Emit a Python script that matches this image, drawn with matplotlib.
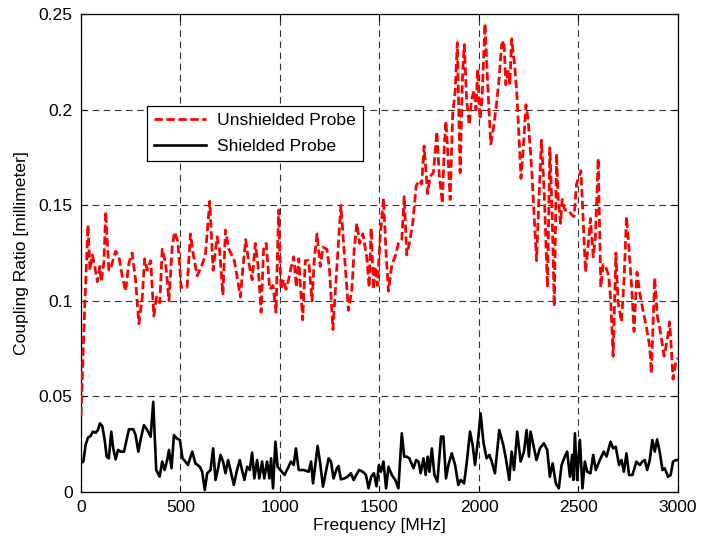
import matplotlib
matplotlib.use("Agg")
import matplotlib.pyplot as plt
from matplotlib.ticker import FixedLocator, FixedFormatter

# ---- data ----
unshielded_freq = [0, 18, 35, 45, 57, 69, 82, 95, 102, 115, 124, 140, 152, 174, 191, 207, 224, 241,
                   257, 274, 291, 308, 320, 333, 350, 366, 380, 396, 408, 425, 442, 458, 470, 487,
                   503, 533, 550, 563, 584, 609, 625, 647, 664, 684, 696, 713, 726, 743, 768, 784,
                   801, 814, 828, 843, 860, 876, 890, 905, 918, 931, 948, 965, 980, 993, 1005, 1018,
                   1030, 1043, 1057, 1069, 1082, 1094, 1114, 1127, 1144, 1161, 1172, 1186, 1202,
                   1216, 1236, 1249, 1266, 1286, 1306, 1323, 1344, 1361, 1373, 1386, 1400, 1416,
                   1436, 1448, 1458, 1470, 1478, 1490, 1503, 1520, 1533, 1545, 1562, 1578, 1595,
                   1612, 1624, 1637, 1650, 1667, 1684, 1700, 1712, 1724, 1742, 1754, 1771, 1788,
                   1801, 1816, 1826, 1834, 1846, 1855, 1868, 1880, 1891, 1905, 1918, 1926, 1938,
                   1951, 1962, 1975, 1985, 1993, 2005, 2015, 2030, 2043, 2059, 2072, 2085, 2100,
                   2114, 2125, 2135, 2146, 2155, 2164, 2177, 2189, 2197, 2211, 2222, 2236, 2247,
                   2264, 2278, 2289, 2301, 2314, 2328, 2344, 2356, 2368, 2378, 2390, 2398, 2410,
                   2418, 2431, 2448, 2465, 2478, 2490, 2512, 2523, 2535, 2548, 2560, 2574, 2585,
                   2599, 2612, 2624, 2636, 2652, 2662, 2674, 2688, 2699, 2716, 2729, 2741, 2754,
                   2769, 2779, 2794, 2808, 2824, 2841, 2858, 2866, 2883, 2896, 2913, 2930, 2946,
                   2958, 2966, 2975, 2991, 3000]
unshielded_ratio = [0.040, 0.095, 0.1396, 0.116, 0.124, 0.118, 0.110, 0.118, 0.110, 0.120, 0.1466,
                    0.116, 0.118, 0.126, 0.123, 0.113, 0.105, 0.120, 0.125, 0.111, 0.088, 0.102,
                    0.122, 0.116, 0.121, 0.092, 0.102, 0.099, 0.127, 0.120, 0.100, 0.128, 0.136,
                    0.131, 0.107, 0.107, 0.135, 0.125, 0.113, 0.119, 0.124, 0.152, 0.116, 0.1335,
                    0.127, 0.103, 0.137, 0.127, 0.122, 0.113, 0.102, 0.118, 0.132, 0.120, 0.111,
                    0.130, 0.118, 0.094, 0.128, 0.130, 0.106, 0.108, 0.094, 0.1475, 0.106, 0.111,
                    0.106, 0.111, 0.118, 0.123, 0.107, 0.122, 0.090, 0.121, 0.121, 0.100, 0.121,
                    0.135, 0.118, 0.128, 0.127, 0.116, 0.085, 0.118, 0.150, 0.125, 0.095, 0.106,
                    0.127, 0.1405, 0.130, 0.135, 0.123, 0.107, 0.138, 0.106, 0.118, 0.108, 0.133,
                    0.1536, 0.125, 0.105, 0.119, 0.123, 0.130, 0.132, 0.1545, 0.124, 0.130, 0.1405,
                    0.160, 0.163, 0.161, 0.181, 0.156, 0.165, 0.167, 0.1885, 0.165, 0.151, 0.182,
                    0.194, 0.172, 0.153, 0.198, 0.209, 0.235, 0.167, 0.220, 0.234, 0.205, 0.192,
                    0.205, 0.210, 0.200, 0.221, 0.195, 0.205, 0.245, 0.215, 0.182, 0.190, 0.200,
                    0.215, 0.234, 0.236, 0.213, 0.220, 0.213, 0.237, 0.225, 0.210, 0.1946, 0.164,
                    0.179, 0.2025, 0.1946, 0.170, 0.142, 0.121, 0.153, 0.184, 0.156, 0.107, 0.180,
                    0.144, 0.097, 0.177, 0.153, 0.1405, 0.153, 0.1475, 0.1475, 0.145, 0.144, 0.161,
                    0.168, 0.144, 0.115, 0.128, 0.143, 0.123, 0.1335, 0.1745, 0.107, 0.119, 0.118,
                    0.113, 0.100, 0.071, 0.125, 0.099, 0.089, 0.111, 0.144, 0.127, 0.104, 0.084,
                    0.115, 0.104, 0.095, 0.0865, 0.076, 0.062, 0.112, 0.092, 0.083, 0.071, 0.0795,
                    0.089, 0.076, 0.059, 0.069, 0.070]

shielded_freq = [0, 12, 23, 35, 48, 60, 74, 85, 95, 107, 119, 129, 140, 152, 162, 174, 186, 199,
                 216, 229, 241, 263, 274, 288, 299, 316, 333, 350, 363, 378, 395, 408, 420, 433,
                 442, 455, 467, 480, 497, 510, 525, 537, 559, 575, 597, 609, 622, 634, 651, 664,
                 676, 689, 701, 714, 726, 739, 751, 768, 784, 798, 809, 821, 835, 848, 860, 871,
                 885, 896, 910, 921, 935, 947, 955, 965, 977, 988, 1002, 1023, 1039, 1055, 1069,
                 1080, 1094, 1119, 1144, 1156, 1166, 1177, 1189, 1202, 1216, 1231, 1244, 1256,
                 1269, 1286, 1294, 1306, 1323, 1340, 1356, 1370, 1383, 1398, 1416, 1432, 1445,
                 1458, 1472, 1485, 1497, 1507, 1520, 1533, 1545, 1562, 1579, 1595, 1612, 1624,
                 1637, 1650, 1671, 1684, 1696, 1707, 1721, 1732, 1742, 1751, 1763, 1776, 1791,
                 1809, 1821, 1834, 1846, 1863, 1880, 1896, 1908, 1925, 1938, 1955, 1968, 1980,
                 1997, 2008, 2022, 2038, 2052, 2064, 2080, 2102, 2122, 2135, 2152, 2164, 2176,
                 2192, 2209, 2226, 2239, 2251, 2259, 2273, 2289, 2306, 2326, 2343, 2356, 2370,
                 2386, 2401, 2415, 2431, 2443, 2457, 2468, 2474, 2482, 2493, 2507, 2520, 2532,
                 2544, 2560, 2574, 2587, 2607, 2627, 2641, 2661, 2674, 2687, 2704, 2716, 2728,
                 2741, 2754, 2771, 2791, 2808, 2821, 2833, 2845, 2858, 2871, 2883, 2895, 2908,
                 2922, 2933, 2950, 2963, 2975, 2990, 3000]
shielded_ratio = [0.0153, 0.0159, 0.0246, 0.0284, 0.0293, 0.0316, 0.031, 0.0324, 0.0359, 0.0345,
                  0.0272, 0.0185, 0.0176, 0.0316, 0.0228, 0.0171, 0.022, 0.0211, 0.0211, 0.0272,
                  0.0328, 0.0328, 0.0298, 0.0211, 0.0272, 0.035, 0.0324, 0.0289, 0.0472, 0.0115,
                  0.008, 0.0159, 0.0115, 0.0167, 0.022, 0.0124, 0.0298, 0.0281, 0.0272, 0.0176,
                  0.0159, 0.0141, 0.0211, 0.015, 0.0132, 0.0106, 0.001, 0.0098, 0.0115, 0.0228,
                  0.0063, 0.0124, 0.0194, 0.0159, 0.0098, 0.0167, 0.0115, 0.0037, 0.0115, 0.0167,
                  0.0115, 0.0063, 0.0132, 0.0115, 0.0206, 0.0071, 0.0167, 0.0071, 0.0159, 0.0071,
                  0.0159, 0.0071, 0.0176, 0.0019, 0.0263, 0.0132, 0.0115, 0.0089, 0.0124, 0.0159,
                  0.0141, 0.0228, 0.0115, 0.0115, 0.0106, 0.0159, 0.0045, 0.0141, 0.0241, 0.015,
                  0.0028, 0.0106, 0.0176, 0.0159, 0.0071, 0.0124, 0.0136, 0.0066, 0.0071, 0.008,
                  0.0098, 0.0063, 0.0089, 0.0115, 0.0106, 0.0089, 0.0019, 0.008, 0.0098, 0.003,
                  0.014, 0.0106, 0.0159, 0.0019, 0.0132, 0.0089, 0.0063, 0.0019, 0.0307, 0.0185,
                  0.0185, 0.0176, 0.0124, 0.0167, 0.0159, 0.0098, 0.0176, 0.0089, 0.0185, 0.0106,
                  0.0228, 0.0089, 0.0054, 0.029, 0.029, 0.0071, 0.0141, 0.0202, 0.0141, 0.0037,
                  0.0063, 0.0045, 0.015, 0.0316, 0.0246, 0.0141, 0.029, 0.0411, 0.0263, 0.0176,
                  0.0194, 0.0159, 0.0098, 0.0324, 0.0246, 0.0176, 0.0063, 0.0211, 0.0115, 0.0316,
                  0.0159, 0.0211, 0.0324, 0.0185, 0.0316, 0.0246, 0.0167, 0.0228, 0.0255, 0.022,
                  0.008, 0.015, 0.0045, 0.0019, 0.0141, 0.0185, 0.0211, 0.008, 0.0194, 0.0063,
                  0.0307, 0.0063, 0.0272, 0.0019, 0.0159, 0.0106, 0.0098, 0.0194, 0.0115, 0.0167,
                  0.0211, 0.0185, 0.0263, 0.0228, 0.0237, 0.0141, 0.0167, 0.0106, 0.0202, 0.0089,
                  0.0089, 0.0159, 0.0141, 0.0159, 0.0167, 0.0115, 0.0167, 0.0272, 0.0211, 0.0275,
                  0.0211, 0.0115, 0.0124, 0.008, 0.0089, 0.0159, 0.0167, 0.0167]

x_ticks = [0, 500, 1000, 1500, 2000, 2500, 3000]
x_tick_labels = ["0", "500", "1000", "1500", "2000", "2500", "3000"]
y_ticks = [0, 0.05, 0.1, 0.15, 0.2, 0.25]
y_tick_labels = ["0", "0.05", "0.1", "0.15", "0.2", "0.25"]

series_labels = ["Unshielded Probe", "Shielded Probe"]

# ---- figure ----
plt.rcParams['font.family'] = ['Liberation Sans', 'DejaVu Sans']
fs = 12.6

fig = plt.figure(figsize=(7.11, 5.42), dpi=100)
ax = fig.add_axes([81 / 711, 1 - 492 / 542, (678 - 81) / 711, (492 - 14) / 542])

ax.plot(unshielded_freq, unshielded_ratio, color='#ff0000', lw=2.0,
        linestyle=(0, (3.0, 1.3)), label=series_labels[0], zorder=3)
ax.plot(shielded_freq, shielded_ratio, color='black', lw=1.9,
        linestyle='-', label=series_labels[1], zorder=3)

ax.set_xlim(0, 3000)
ax.set_ylim(0, 0.25)
ax.xaxis.set_major_locator(FixedLocator(x_ticks))
ax.xaxis.set_major_formatter(FixedFormatter(x_tick_labels))
ax.yaxis.set_major_locator(FixedLocator(y_ticks))
ax.yaxis.set_major_formatter(FixedFormatter(y_tick_labels))

ax.grid(True, color='#333333', linestyle=(0, (6, 4)), linewidth=0.8)
ax.tick_params(direction='in', length=4, width=0.8, top=True, right=True,
               labelsize=fs, colors='black', pad=6)
for s in ax.spines.values():
    s.set_linewidth(0.9)
    s.set_color('black')

ax.set_xlabel("Frequency [MHz]", fontsize=fs, labelpad=2)
ax.set_ylabel("Coupling Ratio [millimeter]", fontsize=fs, labelpad=7)

leg = ax.legend(loc='upper left', bbox_to_anchor=(0.110, 0.8075), fontsize=fs,
                frameon=True, fancybox=False, edgecolor='black', framealpha=1,
                borderpad=0.4, handlelength=3.0, handletextpad=0.6, labelspacing=0.6,
                borderaxespad=0)
leg.get_frame().set_linewidth(0.9)

fig.savefig("out.png", dpi=100)
